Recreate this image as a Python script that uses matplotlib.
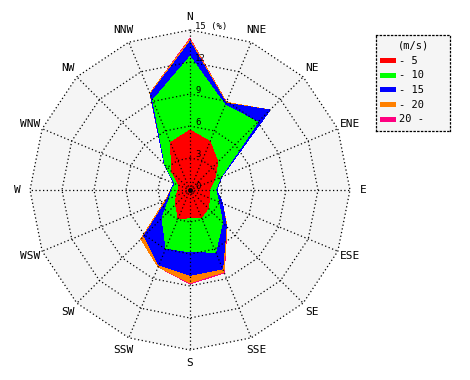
import numpy as np
import matplotlib.pyplot as plt
from matplotlib.patches import Polygon, Rectangle

# --- data (percent of time, per speed class) ---
directions = ["N", "NNE", "NE", "ENE", "E", "ESE", "SE", "SSE",
              "S", "SSW", "SW", "WSW", "W", "WNW", "NW", "NNW"]
speed_labels = ["- 5", "- 10", "- 15", "- 20", "20 -"]
speed_colors = ["#ff0000", "#00ff00", "#0000ff", "#ff8000", "#ff0080"]

upto_5 = [5.6, 4.9, 3.7, 2.5, 1.8, 2.0, 2.4, 2.8, 2.6, 2.9, 1.9, 1.4, 1.1, 1.1, 2.4, 4.8]
upto_10 = [6.9, 3.7, 5.3, 0.6, 0.6, 0.9, 1.9, 3.5, 3.2, 3.0, 1.8, 0.7, 0.6, 0.4, 0.9, 4.3]
upto_15 = [1.4, 0.2, 1.6, 0.1, 0.1, 0.4, 0.5, 1.7, 2.2, 1.7, 2.4, 0.2, 0.1, 0.1, 0.1, 0.6]
upto_20 = [0.2, 0.1, 0.0, 0.0, 0.0, 0.0, 0.1, 0.3, 0.7, 0.2, 0.4, 0.2, 0.0, 0.0, 0.0, 0.1]
over_20 = [0.1, 0.0, 0.0, 0.0, 0.0, 0.0, 0.0, 0.1, 0.1, 0.0, 0.0, 0.0, 0.0, 0.0, 0.0, 0.0]

ring_values = [0, 3, 6, 9, 12, 15]
r_max = 15

font = "DejaVu Sans Mono"

# --- geometry ---
theta = np.deg2rad(np.arange(len(directions)) * 360.0 / len(directions))


def to_xy(r):
    r = np.asarray(r, dtype=float)
    return np.column_stack([r * np.sin(theta), r * np.cos(theta)])


fig = plt.figure(figsize=(4.7, 3.8), dpi=100)
lim = r_max * 180 / 160
ax = fig.add_axes([10 / 470, 10 / 380, 360 / 470, 360 / 380])
ax.set_xlim(-lim, lim)
ax.set_ylim(-lim, lim)
ax.set_aspect("equal")
ax.axis("off")

# background of the plotting area
ax.add_patch(Polygon(to_xy([r_max] * 16), closed=True, facecolor="#f5f5f5",
                     edgecolor="none", zorder=0))

# stacked (cumulative) polygons, largest first
classes = np.array([upto_5, upto_10, upto_15, upto_20, over_20])
cum = np.cumsum(classes, axis=0)
for i in range(len(cum) - 1, -1, -1):
    ax.add_patch(Polygon(to_xy(cum[i]), closed=True, facecolor=speed_colors[i],
                         edgecolor="none", antialiased=False, zorder=1 + (5 - i)))

# dotted grid: 16-gon rings and spokes
dots = (0, (1, 2))
for v in ring_values[1:]:
    pts = to_xy([v] * 16)
    pts = np.vstack([pts, pts[:1]])
    ax.plot(pts[:, 0], pts[:, 1], color="black", lw=0.9, linestyle=dots, zorder=10)
outer = to_xy([r_max] * 16)
for x, y in outer:
    ax.plot([0, x], [0, y], color="black", lw=0.9, linestyle=dots, zorder=10)
ax.plot([0], [0], marker="o", color="black", markersize=3.5,
        markeredgewidth=0, zorder=11)

# ring labels along the north spoke
px = r_max / 160
for v in ring_values:
    label = f"{v} (%)" if v == r_max else str(v)
    ax.text(5 * px, v + 3.5 * px, label, fontsize=6.5, family=font,
            ha="left", va="center", zorder=12)

# direction labels
label_r = 173 * px
for name, t in zip(directions, theta):
    ax.text(label_r * np.sin(t), label_r * np.cos(t), name, fontsize=8,
            family=font, ha="center", va="center", clip_on=False)

# --- legend box (pixel units) ---
lax = fig.add_axes([376 / 470, 1 - 131 / 380, 74 / 470, 96 / 380])
lax.set_xlim(0, 74)
lax.set_ylim(96, 0)
lax.set_facecolor("#f5f5f5")
lax.set_xticks([])
lax.set_yticks([])
for sp in lax.spines.values():
    sp.set_linestyle(dots)
    sp.set_linewidth(0.9)
lax.text(38, 10, "(m/s)", fontsize=7.5, family=font, ha="center", va="center")
for i, (lab, col) in enumerate(zip(speed_labels, speed_colors)):
    y = 25.7 + i * 14.6
    lax.add_patch(Rectangle((4, y - 2.5), 16, 5, facecolor=col, edgecolor="none"))
    lax.text(23, y, lab, fontsize=7.5, family=font, ha="left", va="center")

fig.savefig("out.png", dpi=100)
